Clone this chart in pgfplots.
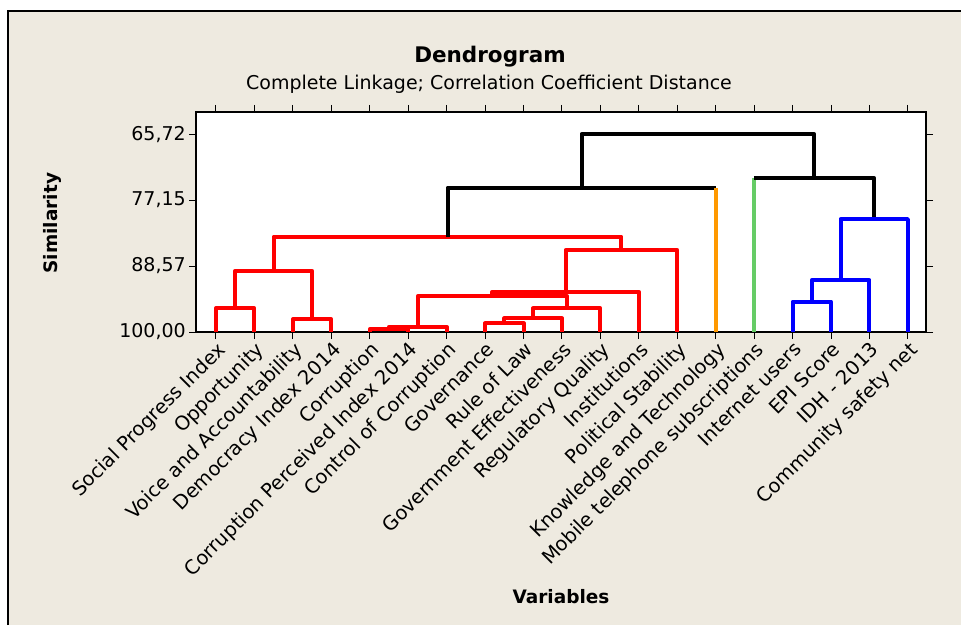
\documentclass[border=0pt]{standalone}
\usepackage{fontspec}
\setmainfont{DejaVu Sans}
\usepackage{pgfplots}
\pgfplotsset{compat=1.18}
\definecolor{bg}{RGB}{238,234,224}
\definecolor{dorange}{RGB}{255,153,0}
\definecolor{dgreen}{RGB}{102,204,102}
\definecolor{dred}{RGB}{255,0,0}
\definecolor{dblue}{RGB}{0,0,255}
\begin{document}
\begin{tikzpicture}
\useasboundingbox (0pt,0pt) rectangle (961pt,625pt);
\fill[white] (0pt,0pt) rectangle (961pt,625pt);
\fill[bg] (8pt,0pt) rectangle (961pt,614pt);
\draw[line width=1.5pt] (8pt,0pt) -- (8pt,614pt) -- (961pt,614pt);
\begin{axis}[
  at={(196pt,293pt)}, anchor=south west,
  scale only axis, width=730pt, height=220pt,
  xmin=-0.52, xmax=18.47, ymin=61.9, ymax=100, y dir=reverse,
  axis background/.style={fill=white},
  axis line style={line width=1.2pt},
  tick align=outside, major tick length=7pt,
  tick style={black, line width=1pt},
  xtick={0,...,18},
  xticklabels={Social Progress Index, Opportunity, Voice and Accountability, Democracy Index 2014, Corruption, Corruption Perceived Index 2014, Control of Corruption, Governance, Rule of Law, Government Effectiveness, Regulatory Quality, Institutions, Political Stability, Knowledge and Technology, Mobile telephone subscriptions, Internet users, EPI Score, IDH - 2013, Community safety net},
  xticklabel style={rotate=45, anchor=north east, inner sep=1pt, font=\fontsize{19.5}{21}\selectfont},
  ytick={65.72,77.15,88.57,100},
  yticklabels={{65,72},{77,15},{88,57},{100,00}},
  yticklabel style={font=\fontsize{19}{21}\selectfont, inner sep=3pt},
  /pgf/number format/assume math mode=true,
  every axis plot/.append style={line width=4pt, line join=round, mark=none},
  clip mode=individual,
]
% red cluster
\addplot[dred] coordinates {(0,100)(0,95.9)(1,95.9)(1,100)};
\addplot[dred] coordinates {(2,100)(2,97.8)(3,97.8)(3,100)};
\addplot[dred] coordinates {(0.5,95.9)(0.5,89.39)(2.5,89.39)(2.5,97.8)};
\addplot[dred] coordinates {(4,100)(4,99.53)(5,99.53)(5,100)};
\addplot[dred] coordinates {(4.5,99.53)(4.5,99.1)(6,99.1)(6,100)};
\addplot[dred] coordinates {(7,100)(7,98.5)(8,98.5)(8,100)};
\addplot[dred] coordinates {(7.5,98.5)(7.5,97.63)(9,97.63)(9,100)};
\addplot[dred] coordinates {(8.25,97.63)(8.25,95.9)(10,95.9)(10,100)};
\addplot[dred] coordinates {(5.25,99.1)(5.25,93.77)(9.125,93.77)(9.125,95.9)};
\addplot[dred] coordinates {(7.1875,93.77)(7.1875,93.02)(11,93.02)(11,100)};
\addplot[dred] coordinates {(9.094,93.02)(9.094,85.8)(12,85.8)(12,100)};
\addplot[dred] coordinates {(1.5,89.39)(1.5,83.5)(10.547,83.5)(10.547,85.8)};
% black links and singletons
\addplot[black] coordinates {(6.023,83.5)(6.023,75.0)(13,75.0)};
\addplot[dorange] coordinates {(13,100)(13,75.0)};
\addplot[black] coordinates {(9.512,75.0)(9.512,65.72)(15.5625,65.72)(15.5625,73.4)};
\addplot[dgreen] coordinates {(14,100)(14,73.4)};
\addplot[black] coordinates {(14,73.4)(17.125,73.4)(17.125,80.44)};
% blue cluster
\addplot[dblue] coordinates {(15,100)(15,94.75)(16,94.75)(16,100)};
\addplot[dblue] coordinates {(15.5,94.75)(15.5,91.0)(17,91.0)(17,100)};
\addplot[dblue] coordinates {(16.25,91.0)(16.25,80.44)(18,80.44)(18,100)};
% titles and labels
\node[font=\fontsize{21.5}{24}\selectfont\bfseries] at (axis description cs:0.4027,1.25) {Dendrogram};
\node[font=\fontsize{19}{21}\selectfont] at (axis description cs:0.4014,1.127) {Complete Linkage; Correlation Coefficient Distance};
\node[font=\fontsize{18.5}{21}\selectfont\bfseries] at (axis description cs:0.5,-1.2045) {Variables};
\node[font=\fontsize{18.5}{21}\selectfont\bfseries, rotate=90] at (axis description cs:-0.197,0.495) {Similarity};
\end{axis}
\end{tikzpicture}
\end{document}
